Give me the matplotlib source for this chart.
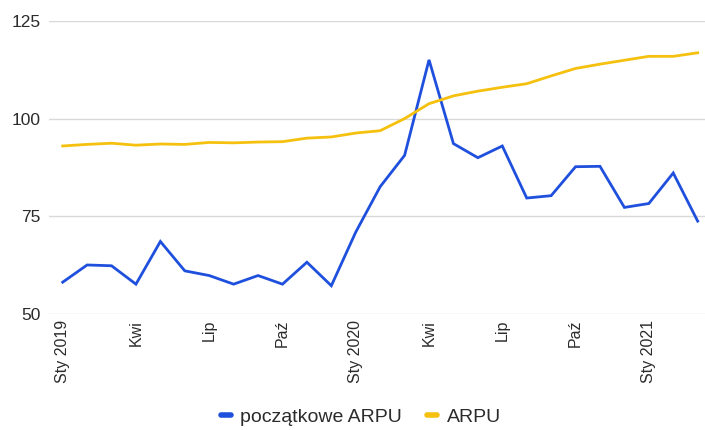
import matplotlib
matplotlib.use("Agg")
import matplotlib.pyplot as plt
from matplotlib.lines import Line2D

plt.rcParams['font.family'] = ['Liberation Sans', 'DejaVu Sans']

months = list(range(27))
tick_positions = [0, 3, 6, 9, 12, 15, 18, 21, 24]
tick_labels = ["Sty 2019", "Kwi", "Lip", "Paź", "Sty 2020", "Kwi", "Lip", "Paź", "Sty 2021"]

poczatkowe_arpu = [58.2, 62.6, 62.4, 57.7, 68.6, 61.1, 59.9, 57.7, 59.9, 57.7, 63.3, 57.3,
                   71.0, 82.6, 90.6, 115.0, 93.6, 90.0, 93.0, 79.7, 80.3, 87.7, 87.8, 77.3,
                   78.3, 86.1, 73.8]
arpu = [93.0, 93.4, 93.7, 93.2, 93.5, 93.4, 93.9, 93.8, 94.0, 94.1, 95.0, 95.3,
        96.3, 96.9, 100.0, 103.8, 105.8, 107.0, 108.0, 108.9, 110.9, 112.8, 113.9, 114.9,
        115.9, 115.9, 116.8]

y_ticks = [50, 75, 100, 125]

blue = '#1f50dd'
yellow = '#f5c10e'
text_color = '#2b2b2b'

fig = plt.figure(figsize=(7.05, 4.30), dpi=100)
ax = fig.add_axes([49/705, 1 - 314.3/430, 656/705, (314.3 - 20.7)/430])

ax.plot(months, poczatkowe_arpu, color=blue, lw=2.0, solid_joinstyle='miter', zorder=3)
ax.plot(months, arpu, color=yellow, lw=2.0, zorder=3)

ax.set_ylim(50, 125)
ax.set_xlim(-0.56, 26.3)
ax.set_yticks(y_ticks)
ax.set_yticklabels([str(v) for v in y_ticks], fontsize=12.5, color=text_color)
ax.set_xticks(tick_positions)
ax.set_xticklabels(tick_labels, rotation=90, fontsize=11.5, color=text_color, va='top')
ax.tick_params(axis='both', length=0)
ax.tick_params(axis='x', pad=4)
ax.tick_params(axis='y', pad=6)
ax.grid(axis='y', color='#d9d9d9', lw=1.0)
ax.set_axisbelow(True)
for s in ax.spines.values():
    s.set_visible(False)

handles = [Line2D([0], [0], color=blue, lw=4, solid_capstyle='round'),
           Line2D([0], [0], color=yellow, lw=4, solid_capstyle='round')]
fig.legend(handles, ["początkowe ARPU", "ARPU"], loc='center', bbox_to_anchor=(361/705, 1 - 417/430),
           ncol=2, frameon=False, fontsize=14, handlelength=0.5, handletextpad=0.5,
           columnspacing=1.3, labelcolor=text_color)

fig.savefig('out.png', dpi=100)
